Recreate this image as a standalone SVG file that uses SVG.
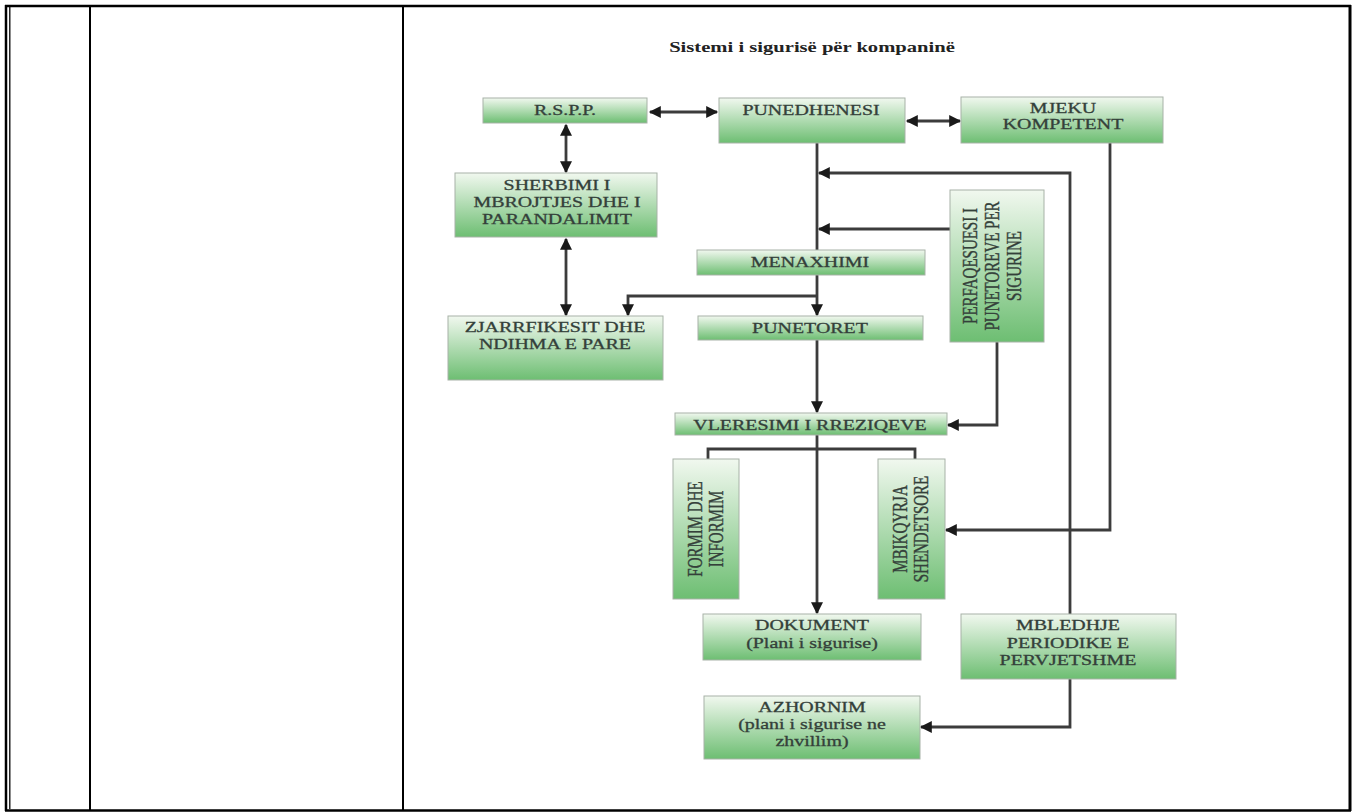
<svg xmlns="http://www.w3.org/2000/svg" width="1353" height="812" viewBox="0 0 1353 812">
<defs>
<linearGradient id="g" x1="0" y1="0" x2="0" y2="1">
<stop offset="0" stop-color="#f1f8ef"/>
<stop offset="1" stop-color="#6dbe72"/>
</linearGradient>
<marker id="ah" viewBox="0 0 10 10" refX="9" refY="5" markerWidth="15" markerHeight="12" markerUnits="userSpaceOnUse" orient="auto-start-reverse">
<path d="M0,0 L10,5 L0,10 z" fill="#1a1a1a"/>
</marker>
</defs>
<style>
.box{fill:url(#g);stroke:#a7b2a7;stroke-width:1}
.t{font-family:"Liberation Serif","Times New Roman",serif;font-size:15px;fill:#34403a;stroke:#34403a;stroke-width:0.3;text-anchor:middle}
.title{font-family:"Liberation Serif","Times New Roman",serif;font-size:15.5px;font-weight:bold;fill:#222;text-anchor:middle}
.c{fill:none;stroke:#3c3c3c;stroke-width:2.8}
.b{stroke:#000;fill:none}
</style>
<rect width="1353" height="812" fill="#fff"/>
<g id="table">
<line class="b" x1="5" y1="6" x2="1351" y2="6" stroke-width="2.5"/>
<line class="b" x1="5" y1="810.5" x2="1351" y2="810.5" stroke-width="2.5"/>
<line class="b" x1="6" y1="5" x2="6" y2="811" stroke-width="2.5"/>
<line class="b" x1="9.8" y1="7" x2="9.8" y2="809" stroke-width="1.3"/>
<line class="b" x1="90" y1="6" x2="90" y2="810" stroke-width="2"/>
<line class="b" x1="403" y1="6" x2="403" y2="810" stroke-width="2"/>
<line class="b" x1="1350" y1="5" x2="1350" y2="811" stroke-width="3"/>
</g>
<text class="title" transform="translate(812 0) scale(1.33 1)" x="0" y="52">Sistemi i sigurisë për kompaninë</text>
<g id="connectors">
<path class="c" d="M650,112 H717" marker-start="url(#ah)" marker-end="url(#ah)"/>
<path class="c" d="M907,121 H960" marker-start="url(#ah)" marker-end="url(#ah)"/>
<path class="c" d="M566,125 V172" marker-start="url(#ah)" marker-end="url(#ah)"/>
<path class="c" d="M566,239 V315" marker-start="url(#ah)" marker-end="url(#ah)"/>
<path class="c" d="M817,143 V250"/>
<path class="c" d="M1070,614 V173 H819" marker-end="url(#ah)"/>
<path class="c" d="M950,229 H819" marker-end="url(#ah)"/>
<path class="c" d="M817,275 V315" marker-end="url(#ah)"/>
<path class="c" d="M817,296 H628 V315" marker-end="url(#ah)"/>
<path class="c" d="M817,340 V412" marker-end="url(#ah)"/>
<path class="c" d="M997,342 V425 H948" marker-end="url(#ah)"/>
<path class="c" d="M817,435 V613" marker-end="url(#ah)"/>
<path class="c" d="M708,459 V449 H915 V459"/>
<path class="c" d="M1110,143 V530 H946" marker-end="url(#ah)"/>
<path class="c" d="M1070,679 V727 H921" marker-end="url(#ah)"/>
</g>
<g id="rspp">
<rect class="box" x="483" y="98" width="164" height="25"/>
<text class="t" transform="translate(565 0) scale(1.33 1)" x="0" y="115">R.S.P.P.</text>
</g>
<g id="punedhenesi">
<rect class="box" x="719" y="98" width="186" height="45"/>
<text class="t" transform="translate(811 0) scale(1.33 1)" x="0" y="115">PUNEDHENESI</text>
</g>
<g id="mjeku">
<rect class="box" x="961" y="97" width="202" height="46"/>
<text class="t" transform="translate(1063 0) scale(1.33 1)"><tspan x="0" y="113">MJEKU</tspan><tspan x="0" y="129">KOMPETENT</tspan></text>
</g>
<g id="sherbimi">
<rect class="box" x="455" y="173" width="202" height="64"/>
<text class="t" transform="translate(557 0) scale(1.33 1)"><tspan x="0" y="190">SHERBIMI I</tspan><tspan x="0" y="207">MBROJTJES DHE I</tspan><tspan x="0" y="224">PARANDALIMIT</tspan></text>
</g>
<g id="perfaqesuesi">
<rect class="box" x="950" y="190" width="94" height="152"/>
<text class="t" transform="translate(992 266) scale(1.33 1) rotate(-90)"><tspan x="0" y="-11.5">PERFAQESUESI I</tspan><tspan x="0" y="5">PUNETOREVE PER</tspan><tspan x="0" y="21.5">SIGURINE</tspan></text>
</g>
<g id="menaxhimi">
<rect class="box" x="697" y="250" width="228" height="25"/>
<text class="t" transform="translate(810 0) scale(1.33 1)" x="0" y="267">MENAXHIMI</text>
</g>
<g id="zjarrfikesit">
<rect class="box" x="448" y="316" width="215" height="64"/>
<text class="t" transform="translate(555 0) scale(1.33 1)"><tspan x="0" y="332">ZJARRFIKESIT DHE</tspan><tspan x="0" y="349">NDIHMA E PARE</tspan></text>
</g>
<g id="punetoret">
<rect class="box" x="698" y="316" width="225" height="24"/>
<text class="t" transform="translate(810 0) scale(1.33 1)" x="0" y="333">PUNETORET</text>
</g>
<g id="vleresimi">
<rect class="box" x="675" y="413" width="272" height="22"/>
<text class="t" transform="translate(810 0) scale(1.33 1)" x="0" y="430">VLERESIMI I RREZIQEVE</text>
</g>
<g id="formim">
<rect class="box" x="673" y="459" width="66" height="140"/>
<text class="t" transform="translate(706 529) scale(1.33 1) rotate(-90)"><tspan x="0" y="-3">FORMIM DHE</tspan><tspan x="0" y="13">INFORMIM</tspan></text>
</g>
<g id="mbikqyrja">
<rect class="box" x="878" y="459" width="67" height="140"/>
<text class="t" transform="translate(911 529) scale(1.33 1) rotate(-90)"><tspan x="0" y="-3">MBIKQYRJA</tspan><tspan x="0" y="13">SHENDETSORE</tspan></text>
</g>
<g id="dokument">
<rect class="box" x="703" y="614" width="218" height="46"/>
<text class="t" transform="translate(812 0) scale(1.33 1)"><tspan x="0" y="630">DOKUMENT</tspan><tspan x="0" y="648">(Plani i sigurise)</tspan></text>
</g>
<g id="mbledhje">
<rect class="box" x="961" y="614" width="215" height="65"/>
<text class="t" transform="translate(1068 0) scale(1.33 1)"><tspan x="0" y="630">MBLEDHJE</tspan><tspan x="0" y="648">PERIODIKE E</tspan><tspan x="0" y="665">PERVJETSHME</tspan></text>
</g>
<g id="azhornim">
<rect class="box" x="704" y="696" width="216" height="63"/>
<text class="t" transform="translate(812 0) scale(1.33 1)"><tspan x="0" y="712">AZHORNIM</tspan><tspan x="0" y="729">(plani i sigurise ne</tspan><tspan x="0" y="746">zhvillim)</tspan></text>
</g>
</svg>
